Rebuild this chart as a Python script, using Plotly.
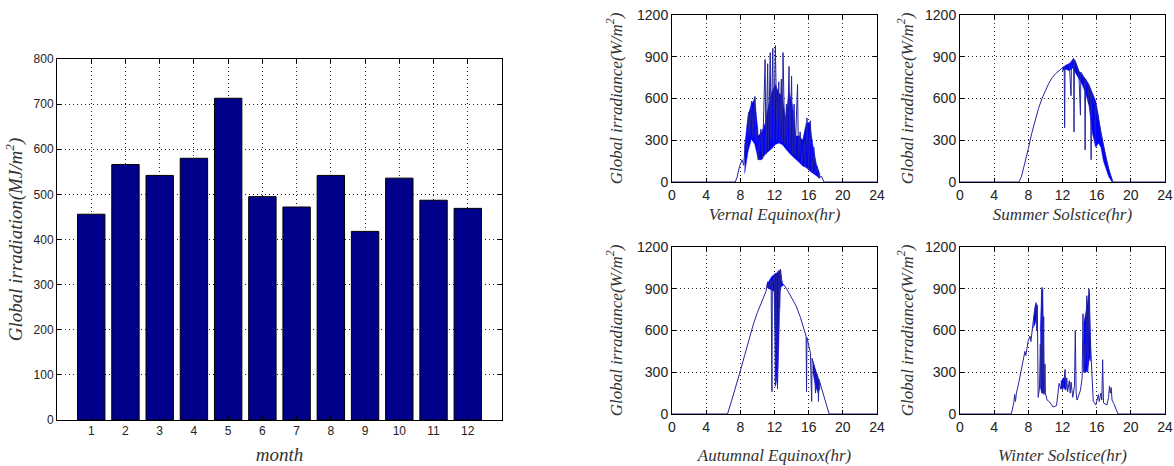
import plotly.graph_objects as go

# ---------------- data ----------------
months = [1, 2, 3, 4, 5, 6, 7, 8, 9, 10, 11, 12]
monthly_irradiation = [456, 566, 542, 580, 713, 495, 472, 542, 418, 536, 487, 469]

# Vernal equinox: line trace (hour, W/m2)
vernal_h = [0, 7.4, 7.6, 7.9, 8.2, 8.4, 8.6, 8.8, 9.0, 9.1, 9.3, 9.5, 9.7, 9.8, 10.0, 10.1, 10.4, 10.6,
            10.9, 11.0, 11.2, 11.3, 11.5, 11.6, 11.8, 11.9, 12.1, 12.3, 12.5, 12.6, 12.8, 12.9, 13.0,
            13.2, 13.4, 13.5, 13.7, 13.8, 14.0, 14.1, 14.3, 14.4, 14.7, 14.8, 15.0, 15.2, 15.5, 15.6,
            15.8, 16.0, 16.2, 16.4, 16.6, 16.8, 17.0, 17.2, 17.5, 17.8, 24]
vernal_w = [0, 0, 30, 110, 160, 120, 300, 230, 500, 330, 580, 320, 615, 300, 400, 160, 380, 170,
            880, 200, 850, 240, 930, 300, 960, 280, 980, 300, 720, 280, 740, 290, 930,
            270, 560, 250, 830, 230, 760, 200, 560, 190, 700, 170, 360, 130, 300, 110,
            460, 90, 440, 70, 250, 60, 110, 30, 40, 0, 0]
vernal_band_h = [8.5, 8.9, 9.3, 9.7, 10.1, 10.5, 10.9, 11.3, 11.7, 12.1, 12.5, 12.9, 13.3, 13.7,
                 14.1, 14.5, 14.9, 15.3, 15.7, 16.1, 16.5, 16.9, 17.3]
vernal_band_hi = [250, 480, 560, 600, 330, 360, 420, 550, 650, 700, 640, 620, 450, 650,
                  550, 330, 330, 300, 420, 430, 260, 130, 60]
vernal_band_lo = [60, 220, 310, 270, 160, 160, 200, 220, 240, 270, 280, 270, 240, 210,
                  185, 160, 140, 115, 105, 80, 60, 45, 25]

# Summer solstice
summer_h = [0, 6.9, 7.2, 7.6, 8.0, 8.4, 8.8, 9.2, 9.6, 10.0, 10.4, 10.8, 11.2, 11.6, 12.0, 12.2,
            12.25, 12.3, 12.8, 13.0, 13.05, 13.3, 13.35, 13.4, 13.9, 14.1, 14.15, 14.6, 14.65, 14.7,
            15.0, 15.05, 15.1, 15.3, 15.35, 15.4, 15.8, 15.85, 15.9, 16.3, 16.7, 17.1, 17.5, 17.9, 24]
summer_w = [0, 0, 40, 130, 240, 350, 450, 530, 600, 660, 710, 750, 780, 800, 820, 830,
            390, 830, 850, 620, 860, 890, 360, 880, 800, 480, 790, 740, 230, 740,
            700, 560, 690, 650, 160, 640, 560, 260, 550, 420, 280, 170, 70, 0, 0]
summer_band_h = [12.0, 12.4, 12.8, 13.2, 13.5, 13.9, 14.3, 14.7, 15.1, 15.5, 15.9, 16.2, 16.5,
                 16.8, 17.1, 17.4, 17.8]
summer_band_hi = [820, 840, 850, 880, 870, 800, 770, 740, 700, 640, 580, 480, 350, 260, 180, 100, 20]
summer_band_lo = [800, 810, 800, 820, 780, 740, 700, 640, 550, 350, 250, 280, 250, 150, 90, 40, 0]

# Autumnal equinox
autumn_h = [0, 6.5, 7.0, 7.5, 8.0, 8.5, 9.0, 9.5, 10.0, 10.5, 11.0, 11.2, 11.4, 11.6, 11.7, 11.75,
            12.0, 12.1, 12.2, 12.35, 12.5, 12.6, 12.7, 12.9, 13.2, 13.6, 14.0, 14.5, 15.0, 15.4,
            15.7, 15.75, 15.8, 16.2, 16.35, 16.4, 16.7, 16.8, 16.9, 17.1, 17.15, 17.2, 17.6, 18.0,
            18.4, 24]
autumn_w = [0, 0, 100, 200, 310, 420, 540, 640, 730, 810, 880, 950, 900, 960, 160, 940,
            1000, 200, 1010, 180, 1030, 760, 1040, 940, 920, 880, 840, 780, 700, 620,
            560, 160, 550, 440, 90, 400, 330, 150, 300, 260, 90, 250, 160, 70,
            0, 0]
autumn_band_h = [11.1, 11.4, 11.7, 11.95, 12.05, 12.2, 12.35, 12.5, 12.65, 12.8, 13.0]
autumn_band_hi = [930, 960, 990, 1000, 1010, 1010, 1020, 1030, 1030, 960, 930]
autumn_band_lo = [910, 900, 890, 880, 600, 250, 200, 500, 880, 920, 920]
autumn_band2_h = [16.5, 16.8, 17.1, 17.3]
autumn_band2_hi = [380, 320, 260, 220]
autumn_band2_lo = [300, 200, 150, 180]

# Winter solstice
winter_h = [0, 6.0, 6.3, 6.4, 6.5, 6.6, 6.8, 7.2, 7.5, 7.6, 7.7, 8.0, 8.2, 8.3, 8.6, 8.8, 8.9,
            9.0, 9.05, 9.15, 9.3, 9.4, 9.5, 9.6, 9.7, 9.8, 9.85, 9.95, 10.0, 10.2, 10.5, 10.9,
            11.3, 11.6, 11.8, 11.9, 12.0, 12.2, 12.3, 12.4, 12.5, 12.6, 12.8, 12.9, 13.0, 13.2,
            13.4, 13.5, 13.6, 13.7, 14.1, 14.3, 14.4, 14.5, 14.6, 14.7, 14.85, 14.95, 15.1, 15.2,
            15.35, 15.6, 15.9, 16.1, 16.2, 16.3, 16.5, 16.6, 16.7, 16.8, 17.2, 17.4, 17.5, 17.6,
            17.7, 17.8, 18.0, 18.5, 24]
winter_w = [0, 0, 80, 140, 90, 150, 200, 320, 400, 450, 420, 530, 560, 520, 680, 750, 800,
            600, 780, 120, 180, 500, 200, 910, 150, 700, 140, 360, 150, 100, 85, 50,
            60, 220, 180, 230, 170, 250, 320, 180, 260, 160, 240, 150, 230, 120,
            200, 600, 150, 100, 170, 260, 720, 300, 500, 360, 850, 300, 900, 600,
            360, 90, 65, 110, 140, 90, 150, 100, 390, 80, 65, 120, 200, 150,
            190, 100, 75, 0, 0]
winter_bands = [
    ([8.6, 8.8, 9.0], [680, 780, 790], [620, 650, 700]),
    ([9.4, 9.55, 9.7, 9.85], [600, 880, 900, 400], [200, 150, 150, 150]),
    ([11.8, 12.1, 12.4], [230, 260, 250], [180, 190, 170]),
    ([14.5, 14.75, 14.95, 15.15, 15.3], [650, 750, 830, 880, 500], [300, 300, 320, 400, 380]),
]

hour_ticks = [0, 4, 8, 12, 16, 20, 24]
w_ticks = [0, 300, 600, 900, 1200]

# ---------------- figure ----------------
W, H = 1174, 466
LINE = "#2424a0"
FILL = "#0000ff"
SANS = "Liberation Sans"
SERIF = "Liberation Serif"

fig = go.Figure()

fig.add_trace(go.Bar(x=months, y=monthly_irradiation, width=0.8,
                     marker=dict(color="#00008a", line=dict(color="#000000", width=1)),
                     xaxis="x", yaxis="y", showlegend=False))


def band(h, hi, lo, ax):
    fig.add_trace(go.Scatter(x=list(h) + list(h)[::-1], y=list(hi) + list(lo)[::-1],
                             fill="toself", fillcolor=FILL, mode="lines",
                             line=dict(color=FILL, width=0.5),
                             xaxis="x" + ax, yaxis="y" + ax, showlegend=False, hoverinfo="skip"))


def line(h, w, ax):
    fig.add_trace(go.Scatter(x=h, y=w, mode="lines", line=dict(color=LINE, width=1),
                             xaxis="x" + ax, yaxis="y" + ax, showlegend=False))


band(vernal_band_h, vernal_band_hi, vernal_band_lo, "2")
line(vernal_h, vernal_w, "2")
band(summer_band_h, summer_band_hi, summer_band_lo, "3")
line(summer_h, summer_w, "3")
band(autumn_band_h, autumn_band_hi, autumn_band_lo, "4")
band(autumn_band2_h, autumn_band2_hi, autumn_band2_lo, "4")
line(autumn_h, autumn_w, "4")
for bh, bhi, blo in winter_bands:
    band(bh, bhi, blo, "5")
line(winter_h, winter_w, "5")


def px(x0, x1):
    return [x0 / W, x1 / W]


def py(top, bottom):
    return [1 - bottom / H, 1 - top / H]


common = dict(showline=True, linecolor="black", linewidth=1, mirror="ticks", ticks="inside",
              ticklen=4, tickcolor="black", showgrid=True, gridcolor="#222", gridwidth=1,
              griddash="1px,3px", zeroline=False, automargin=False)


def title(text, size, standoff):
    return dict(text=text, standoff=standoff,
                font=dict(family=SERIF, size=size, color="#333", style="italic"))


layout = dict(
    width=W, height=H, margin=dict(l=0, r=0, t=0, b=0),
    paper_bgcolor="white", plot_bgcolor="white", showlegend=False, bargap=0.2,
    xaxis=dict(domain=px(57, 502), range=[0, 13], tickvals=months, ticktext=[str(m) for m in months],
               tickfont=dict(family=SANS, size=12, color="#222"), anchor="y",
               title=title("month", 19, 10), **common),
    yaxis=dict(domain=py(59, 420), range=[0, 800], tickvals=[0, 100, 200, 300, 400, 500, 600, 700, 800],
               tickfont=dict(family=SANS, size=12, color="#222"), anchor="x",
               title=title("Global irradiation(MJ/m<sup>2</sup>)", 19, 5), **common),
)

panels = {
    "2": (672, 877, 15, 182, "Vernal Equinox(hr)", 6, 10),
    "3": (960, 1165, 15, 182, "Summer Solstice(hr)", 6, 7),
    "4": (672, 877, 247, 414, "Autumnal Equinox(hr)", 15, 10),
    "5": (960, 1165, 247, 414, "Winter Solstice(hr)", 15, 7),
}
for k, (x0, x1, t, b, xt, xso, yso) in panels.items():
    layout["xaxis" + k] = dict(domain=px(x0, x1), range=[0, 24], tickvals=hour_ticks,
                               tickfont=dict(family=SANS, size=14, color="#222"), anchor="y" + k,
                               title=title(xt, 17, xso), **common)
    layout["yaxis" + k] = dict(domain=py(t, b), range=[0, 1200], tickvals=w_ticks,
                               tickfont=dict(family=SANS, size=14, color="#222"), anchor="x" + k,
                               title=title("Global irradiance(W/m<sup>2</sup>)", 17, yso), **common)

fig.update_layout(**layout)

fig.write_html("out.html", config={"displayModeBar": False},
               post_script="document.body.style.margin='0';")
